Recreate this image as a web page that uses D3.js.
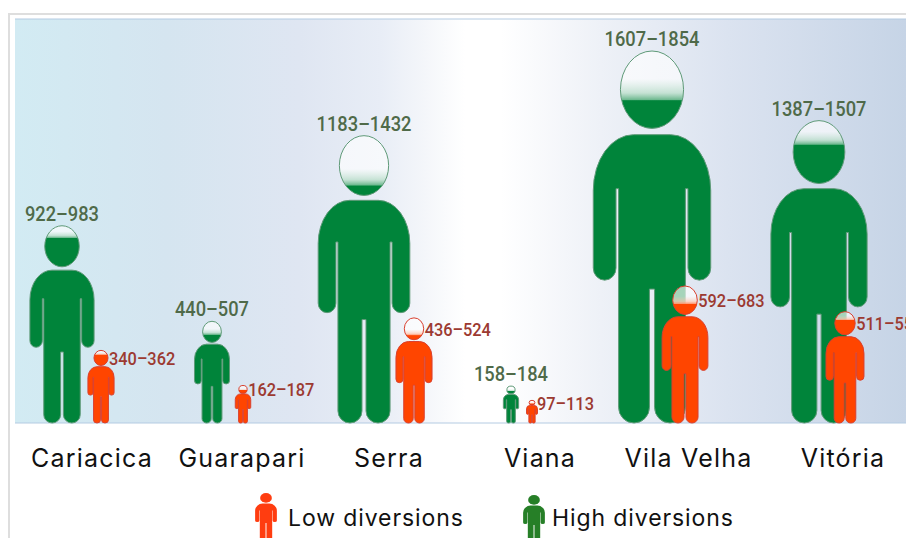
<!DOCTYPE html>
<html>
<head>
<meta charset="utf-8">
<script src="https://cdn.jsdelivr.net/npm/d3@7"></script>
<style>
  html, body { margin: 0; padding: 0; background: #fff; overflow: hidden; }
  svg { display: block; }
</style>
</head>
<body>
<div id="chart"></div>
<script>
// values
const cities = ["Cariacica", "Guarapari", "Serra", "Viana", "Vila Velha", "Vitória"];
const highMin = [922, 440, 1183, 158, 1607, 1387];
const highMax = [983, 507, 1432, 184, 1854, 1507];
const lowMin = [340, 162, 436, 97, 592, 511];
const lowMax = [362, 187, 524, 113, 683, 555];
const legendLabels = ["Low diversions", "High diversions"];

const width = 906, height = 538;
const plot = { left: 15, right: 906, top: 19, bottom: 423 };
const GREEN = "#00843a", RED = "#ff4500";

const svg = d3.select("#chart").append("svg").attr("width", width).attr("height", height);
const defs = svg.append("defs");

// background gradient of the plot
const bg = defs.append("linearGradient").attr("id", "bg");
[[0, "#d2ebf3"], [0.17, "#d5e5f0"], [0.32, "#dfe6f2"], [0.41, "#e8edf6"], [0.46, "#f4f6fa"], [0.505, "#ffffff"],
 [0.545, "#ffffff"], [0.657, "#eef1f7"], [0.8, "#dbe3f0"], [1, "#c6d4e6"]]
  .forEach(s => bg.append("stop").attr("offset", s[0]).attr("stop-color", s[1]));

// outer frame
svg.append("path").attr("d", "M9,538V14H906").attr("fill", "none").attr("stroke", "#dedede").attr("stroke-width", 2);
svg.append("rect").attr("x", plot.left).attr("y", plot.top)
  .attr("width", plot.right - plot.left).attr("height", plot.bottom - plot.top)
  .attr("fill", "url(#bg)");
svg.append("path").attr("d", `M${plot.left},${plot.top}H${plot.right}M${plot.left},${plot.bottom}H${plot.right}`)
  .attr("stroke", "#b4cbe2").attr("stroke-width", 1).attr("fill", "none");

const x = d3.scalePoint().domain(cities).range([92, 842]);
const y = d3.scaleLinear().domain([0, 1854]).range([plot.bottom, 51]);

// figures and names don't sit on a regular grid, shift from the point scale
const highShift = [-30, -30, -28, -31, -40, -23];
const lowShift = [9, 1, 22, -10, -7, 3];
const nameShift = [0, 0, -3, -2, -3.5, 1];

// person drawn in a 32 x 100 box, x centred on 0
const bodyPath = "M-5,22.5 L5,22.5 A11,15 0 0 1 16,37.5 L16,58.3 A3.1,3.3 0 0 1 9.8,58.3 L9.8,37 L9.1,37 " +
  "L9.1,95.8 A4.2,4.2 0 0 1 0.7,95.8 L0.7,64 L-0.7,64 L-0.7,95.8 A4.2,4.2 0 0 1 -9.1,95.8 " +
  "L-9.1,37 L-9.8,37 L-9.8,58.3 A3.1,3.3 0 0 1 -16,58.3 L-16,37.5 A11,15 0 0 1 -5,22.5 Z";

function drawPerson(g, id, cx, lo, hi, color, stroke) {
  const top = y(hi), h = y(0) - top;
  const sy = h / 100, sx = (h * 0.305 + 4) / 32;

  // head is filled up to the low end of the range
  const headH = h * 0.208;
  const level = Math.max(0, Math.min(1, (y(lo) - top) / headH));
  const band = Math.min(0.28, level * 0.55);
  const tint = d3.interpolateRgb("#fff", color);
  const grad = defs.append("linearGradient").attr("id", id).attr("x1", 0).attr("x2", 0).attr("y1", 0).attr("y2", 1);
  grad.append("stop").attr("offset", 0).attr("stop-color", "#fff").attr("stop-opacity", 0.65);
  grad.append("stop").attr("offset", level - band).attr("stop-color", "#fff").attr("stop-opacity", 0.65);
  grad.append("stop").attr("offset", level - band * 0.35).attr("stop-color", tint(0.25)).attr("stop-opacity", 0.85);
  grad.append("stop").attr("offset", level - 0.004).attr("stop-color", tint(0.6));
  grad.append("stop").attr("offset", level).attr("stop-color", color);
  grad.append("stop").attr("offset", 1).attr("stop-color", color);

  const p = g.append("g").attr("transform", `translate(${cx},${top}) scale(${sx},${sy})`);
  p.append("ellipse").attr("cx", 0).attr("cy", 10.4).attr("rx", 8.6).attr("ry", 10.4)
    .attr("fill", `url(#${id})`).attr("stroke", stroke).attr("stroke-width", 1)
    .attr("vector-effect", "non-scaling-stroke");
  p.append("path").attr("d", bodyPath).attr("fill", color).attr("stroke", stroke).attr("stroke-width", 1)
    .attr("vector-effect", "non-scaling-stroke");
  return { top, headMid: top + headH / 2, headRight: cx + 8.6 * sx };
}

const people = svg.append("g");
const labels = svg.append("g").attr("font-family", "Roboto, sans-serif").attr("font-weight", 500);

// the label font in the picture is narrower than anything installed, squeeze Roboto to fit
function squeeze(sel, k) {
  sel.attr("lengthAdjust", "spacingAndGlyphs")
    .attr("textLength", sel.node().getComputedTextLength() * k);
}

cities.forEach((c, i) => {
  const cx = x(c) + highShift[i];
  const f = drawPerson(people, "hi" + i, cx, highMin[i], highMax[i], GREEN, "#5f9a78");
  labels.append("text").attr("x", cx).attr("y", f.top - 5)
    .attr("text-anchor", "middle").attr("font-size", 21).attr("fill", "#4f6a49")
    .text(highMin[i] + "–" + highMax[i])
    .call(squeeze, 0.87);
});

cities.forEach((c, i) => {
  const cx = x(c) + lowShift[i];
  const f = drawPerson(people, "lo" + i, cx, lowMin[i], lowMax[i], RED, "#d9402f");
  labels.append("text").attr("x", Math.max(f.headRight + 1, cx + 5)).attr("y", Math.min(f.headMid, plot.bottom - 16))
    .attr("dy", "0.36em").attr("font-size", 19).attr("fill", "#9c3a31")
    .text(lowMin[i] + "–" + lowMax[i])
    .call(squeeze, 0.86);
});

// city names
svg.append("g").selectAll("text").data(cities).enter().append("text")
  .attr("x", (d, i) => x(d) + nameShift[i]).attr("y", 467)
  .attr("text-anchor", "middle")
  .attr("font-family", "Inter, sans-serif").attr("font-size", 25).attr("letter-spacing", 1.2)
  .attr("fill", "#111")
  .text(d => d);

// legend
const legendX = d3.scalePoint().domain(legendLabels).range([266, 534]);
const legendColor = d3.scaleOrdinal().domain(legendLabels).range(["#ff3d10", "#267f27"]);
const legendTop = [493, 495];
const legendGap = [22, 18];
const legend = svg.append("g").selectAll("g").data(legendLabels).enter().append("g")
  .attr("transform", d => `translate(${legendX(d)},0)`);
legend.append("g").attr("transform", (d, i) => `translate(0,${legendTop[i]}) scale(0.68,0.47)`).each(function (d) {
  d3.select(this).append("ellipse").attr("cx", 0).attr("cy", 10.4).attr("rx", 8.6).attr("ry", 10.4).attr("fill", legendColor(d));
  d3.select(this).append("path").attr("d", bodyPath).attr("fill", legendColor(d));
});
legend.append("text").attr("x", (d, i) => legendGap[i]).attr("y", 526)
  .attr("font-family", "Inter, sans-serif").attr("font-size", 23).attr("letter-spacing", 0.9)
  .attr("fill", "#111")
  .text(d => d);
</script>
</body>
</html>
